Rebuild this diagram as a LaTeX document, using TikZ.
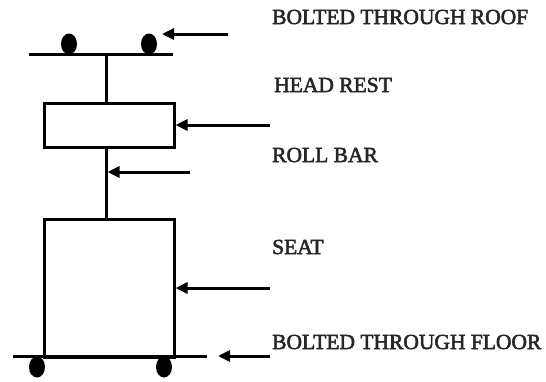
\documentclass[tikz,border=0pt]{standalone}
\usepackage{fontspec}
\setmainfont{Liberation Serif}
\newfontfamily\capfont[FakeBold=2.5]{Liberation Serif}
\usetikzlibrary{arrows.meta}
\begin{document}
\begin{tikzpicture}[x=1pt,y=-1pt,
  member/.style={line width=3pt},
  panel/.style={draw, line width=2.5pt, anchor=north west, inner sep=0pt},
  pointer/.style={line width=3pt, -{Triangle[length=12pt,width=11pt]}},
  bolt/.style={fill=black},
  caption/.style={anchor=west, inner sep=0pt, text=black!85,
    font=\capfont\fontsize{21.5}{24}\selectfont}]
\useasboundingbox (0,0) rectangle (546,381);

% roof bar, post and bolts
\coordinate (roofL) at (29,54);
\coordinate (roofR) at (173,54);
\coordinate (post) at (106,54);
\draw[member] (roofL) -- (roofR);
\fill[bolt] (69,44) ellipse [x radius=8, y radius=10.5];
\fill[bolt] (149,44) ellipse [x radius=8, y radius=10.5];

% head rest and seat
\node[panel, minimum width=130pt, minimum height=44pt] (head) at (43,102) {};
\node[panel, minimum width=130pt, minimum height=138pt] (seat) at (43,218) {};

\draw[member] (post) -- (post |- head.north);
\draw[member] (head.south -| post) -- (seat.north -| post);

% floor bar and bolts
\coordinate (floorL) at (13,356);
\coordinate (floorR) at (207,356);
\draw[member] (floorL) -- (floorR);
\fill[bolt] (37,367) ellipse [x radius=8, y radius=10.5];
\fill[bolt] (164,367) ellipse [x radius=8, y radius=10.5];

% pointers
\coordinate (p1) at (228,34);  \coordinate (t1) at (162,34);
\coordinate (p2) at (270,125);
\coordinate (p3) at (190,172);
\coordinate (p4) at (270,288);
\coordinate (p5) at (270,356); \coordinate (t5) at (218,356);
\draw[pointer] (p1) -- (t1);
\draw[pointer] (p2) -- (p2 -| head.east);
\draw[pointer, shorten >=1.5pt] (p3) -- (p3 -| post);
\draw[pointer] (p4) -- (p4 -| seat.east);
\draw[pointer] (p5) -- (t5);

% captions
\node[caption] (l1) at (272,17) {BOLTED THROUGH ROOF};
\node[caption] (l2) at (274,85) {HEAD REST};
\node[caption] (l3) at (272,155) {ROLL BAR};
\node[caption] (l4) at (272,247) {SEAT};
\node[caption] (l5) at (272,342) {BOLTED THROUGH FLOOR};
\end{tikzpicture}
\end{document}
